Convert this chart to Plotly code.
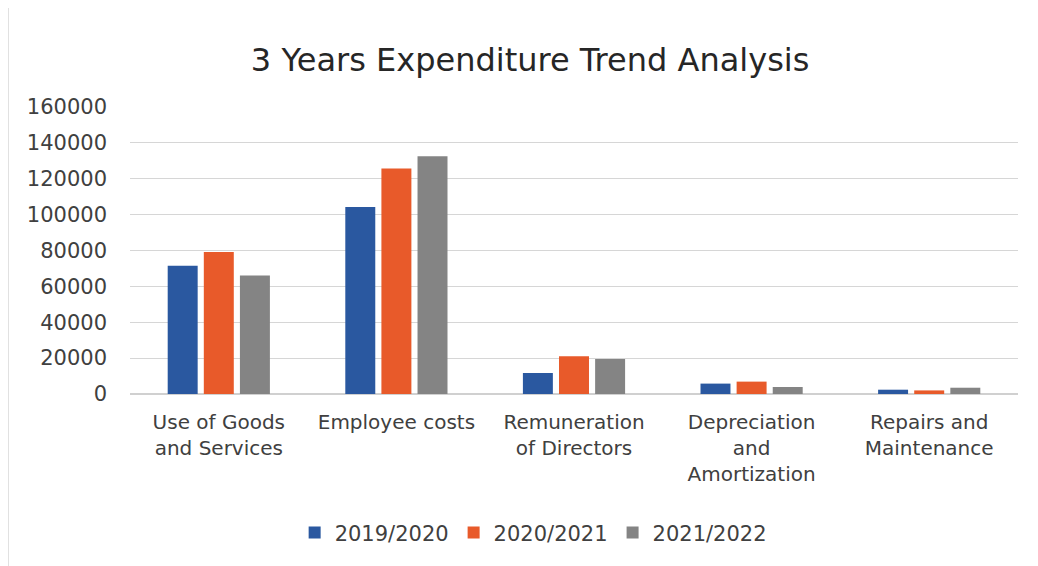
import plotly.graph_objects as go

categories = ["Use of Goods<br>and Services", "Employee costs", "Remuneration<br>of Directors",
              "Depreciation<br>and<br>Amortization", "Repairs and<br>Maintenance"]
series_names = ["2019/2020", "2020/2021", "2021/2022"]
v2019 = [71500, 104300, 11700, 5800, 2400]
v2020 = [79200, 125700, 21000, 6900, 2000]
v2021 = [66100, 132600, 19500, 3900, 3500]
colors = ["#2a58a0", "#e85a2a", "#848484"]
y_ticks = [0, 20000, 40000, 60000, 80000, 100000, 120000, 140000, 160000]

font_family = "'DejaVu Sans', sans-serif"

fig = go.Figure()
for name, vals, c in zip(series_names, [v2019, v2020, v2021], colors):
    fig.add_trace(go.Bar(name=name, x=categories, y=vals, marker_color=c, marker_line_width=0))

fig.update_layout(
    width=1038, height=566,
    paper_bgcolor="white", plot_bgcolor="white",
    barmode="group", bargap=0.39, bargroupgap=0.17,
    margin=dict(l=122, r=28, t=99, b=180, autoexpand=False),
    title=dict(text="3 Years Expenditure Trend Analysis", x=0.503, xanchor="center",
               y=0.908, yanchor="middle",
               font=dict(family=font_family, size=32, color="#262626")),
    font=dict(family=font_family, color="#404040"),
    legend=dict(orientation="h", x=0.454, xanchor="center", y=-0.484, yanchor="middle",
                font=dict(size=21, color="#404040"), itemwidth=30, traceorder="normal"),
    showlegend=True,
    shapes=[dict(type="line", xref="paper", yref="paper", x0=-0.137, x1=-0.137,
                 y0=-0.6, y1=1.35, line=dict(color="#dcdcdc", width=1))],
)
fig.update_yaxes(range=[0, 160000], tickvals=y_ticks, ticktext=[str(t) for t in y_ticks],
                 showgrid=True, gridcolor="#d6d6d6", gridwidth=1, zeroline=True,
                 zerolinecolor="#d0d0d0", tickfont=dict(size=21, color="#404040"),
                 ticks="", ticklabelstandoff=22, showline=False, automargin=False)
fig.update_xaxes(tickfont=dict(size=20, color="#404040"), showline=False, ticks="",
                 ticklabelstandoff=14, automargin=False)

fig.write_html("out.html")
